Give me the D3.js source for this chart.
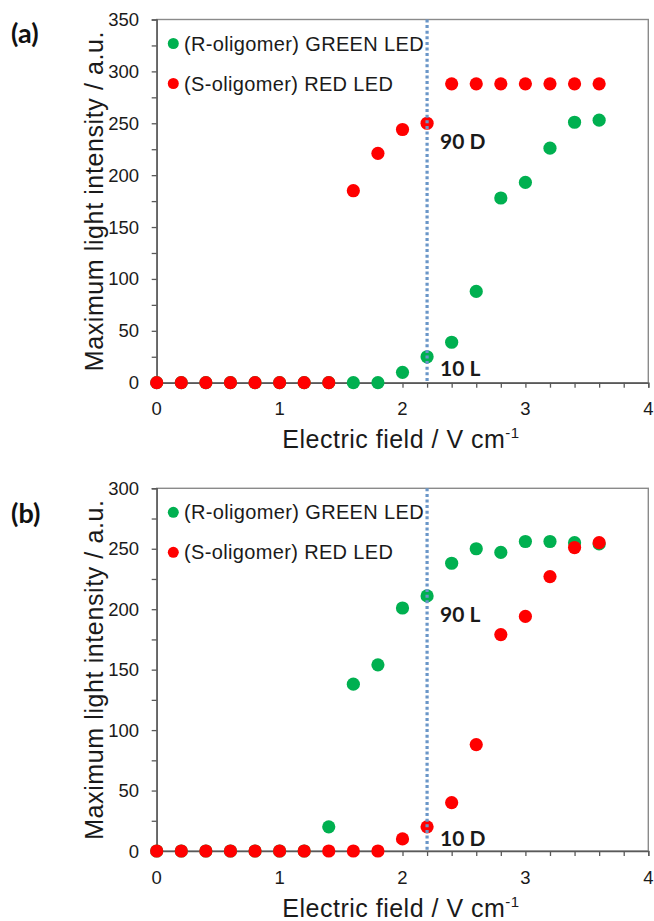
<!DOCTYPE html>
<html>
<head>
<meta charset="utf-8">
<script src="https://cdn.jsdelivr.net/npm/d3@7"></script>
<style>
  html, body { margin: 0; padding: 0; background: #fff; }
  svg { display: block; }
  .sans { font-family: 'Liberation Sans', Arial, sans-serif; }
  .bold { font-family: Lato, 'Open Sans', sans-serif; font-weight: bold; }
</style>
</head>
<body>
<svg id="chart" width="654" height="921"></svg>
<script>
// ---- data ----
const fieldValues = [0, 0.2, 0.4, 0.6, 0.8, 1.0, 1.2, 1.4, 1.6, 1.8, 2.0, 2.2, 2.4, 2.6, 2.8, 3.0, 3.2, 3.4, 3.6];
const panelA_green = [0, 0, 0, 0, 0, 0, 0, 0, 0, 0, 10, 25, 39, 88, 178, 193, 226, 251, 253];
const panelA_red   = [0, 0, 0, 0, 0, 0, 0, 0, 185, 221, 244, 250, 288, 288, 288, 288, 288, 288, 288];
const panelB_green = [0, 0, 0, 0, 0, 0, 0, 20, 138, 154, 201, 211, 238, 250, 247, 256, 256, 255, 254];
const panelB_red   = [0, 0, 0, 0, 0, 0, 0, 0, 0, 0, 10, 20, 40, 88, 179, 194, 227, 251, 255];
const xTickLabels = [0, 1, 2, 3, 4];
const panelA_yTicks = [0, 50, 100, 150, 200, 250, 300, 350];
const panelB_yTicks = [0, 50, 100, 150, 200, 250, 300];
const seriesNames = ["(R-oligomer) GREEN LED", "(S-oligomer) RED LED"];
const markerX = 2.2;
const panelA_notes = [{text: "90 D", y: 250}, {text: "10 L", y: 25}];
const panelB_notes = [{text: "90 L", y: 211}, {text: "10 D", y: 20}];

// ---- drawing ----
const svg = d3.select("#chart");
const GREEN = "#00B050", RED = "#FF0000";
const AXIS = "#595959", FRAME = "#8a8a8a";

function panel(opts) {
  const {top, bottom, yMax, yTicks, green, red, notes, label, labelY} = opts;
  const x = d3.scaleLinear().domain([0, 4]).range([156.7, 648.3]);
  const y = d3.scaleLinear().domain([0, yMax]).range([bottom, top]);
  const g = svg.append("g");

  // frame
  g.append("rect")
    .attr("x", x(0)).attr("y", y(yMax))
    .attr("width", x(4) - x(0)).attr("height", y(0) - y(yMax))
    .attr("fill", "none").attr("stroke", FRAME).attr("stroke-width", 1.4);

  // y axis
  const yAxis = d3.axisLeft(y).tickValues(d3.range(0, yMax + 1, 25)).tickSize(5).tickFormat("");
  const ya = g.append("g").attr("transform", `translate(${x(0)},0)`).call(yAxis);
  ya.select(".domain").attr("stroke", AXIS).attr("stroke-width", 1.4);
  ya.selectAll(".tick line").attr("stroke", AXIS).attr("stroke-width", 1.3);
  g.selectAll(".ylab").data(yTicks).join("text")
    .attr("class", "sans")
    .attr("x", 139).attr("y", d => y(d) + 6.5)
    .attr("text-anchor", "end")
    .attr("font-size", 18.5).attr("fill", "#1a1a1a")
    .text(d => d);

  // x axis
  const xAxis = d3.axisBottom(x).tickValues(d3.range(0, 21).map(i => i * 0.2)).tickSize(5).tickFormat("");
  const xa = g.append("g").attr("transform", `translate(0,${y(0)})`).call(xAxis);
  xa.select(".domain").attr("stroke", AXIS).attr("stroke-width", 1.4);
  xa.selectAll(".tick line").attr("stroke", AXIS).attr("stroke-width", 1.3);
  g.selectAll(".xlab").data(xTickLabels).join("text")
    .attr("class", "sans")
    .attr("x", d => x(d)).attr("y", y(0) + 32.5)
    .attr("text-anchor", "middle")
    .attr("font-size", 18.5).attr("fill", "#1a1a1a")
    .text(d => d);

  // axis titles
  const xt = g.append("text")
    .attr("class", "sans")
    .attr("x", 401).attr("y", y(0) + 65.5)
    .attr("text-anchor", "middle")
    .attr("font-size", 25).attr("letter-spacing", 0.5).attr("fill", "#1a1a1a");
  xt.append("tspan").text("Electric field / V cm");
  xt.append("tspan").attr("font-size", 15).attr("dy", -10).text("-1");

  g.append("text")
    .attr("class", "sans")
    .attr("transform", `translate(103,${(top + bottom) / 2}) rotate(-90)`)
    .attr("text-anchor", "middle")
    .attr("font-size", 25).attr("letter-spacing", 0.6).attr("fill", "#1a1a1a")
    .text("Maximum light intensity / a.u.");

  // points: green first, red on top
  g.selectAll(".gpt").data(fieldValues.map((f, i) => [f, green[i]])).join("circle")
    .attr("cx", d => x(d[0])).attr("cy", d => y(d[1])).attr("r", 6.6).attr("fill", GREEN);
  g.selectAll(".rpt").data(fieldValues.map((f, i) => [f, red[i]])).join("circle")
    .attr("cx", d => x(d[0])).attr("cy", d => y(d[1])).attr("r", 6.6).attr("fill", RED);

  // dotted marker line
  g.append("line")
    .attr("x1", x(markerX)).attr("x2", x(markerX))
    .attr("y1", y(yMax)).attr("y2", y(0))
    .attr("stroke", "#6a96c8").attr("stroke-width", 3.2)
    .attr("stroke-dasharray", "3,2.6");

  // annotations
  g.selectAll(".note").data(notes).join("text")
    .attr("class", "bold")
    .attr("x", x(markerX) + 13)
    .attr("y", (d, i) => i === 0 ? y(d.y) + 26 : y(d.y) + 19)
    .attr("font-size", 21).attr("fill", "#1a1a1a")
    .text(d => d.text);

  // legend
  const legY = [top + 24, top + 64];
  [GREEN, RED].forEach((c, i) => {
    g.append("circle").attr("cx", 173.3).attr("cy", legY[i]).attr("r", 5.5).attr("fill", c);
    g.append("text").attr("class", "sans").attr("x", 184).attr("y", legY[i] + 7)
      .attr("font-size", 20).attr("letter-spacing", 0.35).attr("fill", "#1a1a1a")
      .text(seriesNames[i]);
  });

  // panel label
  svg.append("text").attr("class", "bold").attr("x", 11).attr("y", labelY)
    .attr("font-size", 27).attr("fill", "#111")
    .text(label);
}

panel({top: 19.5, bottom: 382.7, yMax: 350, yTicks: panelA_yTicks,
       green: panelA_green, red: panelA_red, notes: panelA_notes, label: "(a)", labelY: 43});
panel({top: 488.3, bottom: 851, yMax: 300, yTicks: panelB_yTicks,
       green: panelB_green, red: panelB_red, notes: panelB_notes, label: "(b)", labelY: 523});
</script>
</body>
</html>
